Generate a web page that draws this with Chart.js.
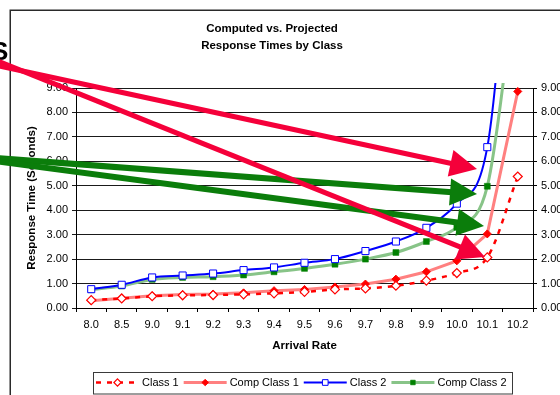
<!DOCTYPE html>
<html>
<head>
<meta charset="utf-8">
<title>Computed vs. Projected Response Times by Class</title>
<script src="https://cdn.jsdelivr.net/npm/chart.js"></script>
<style>
  html, body { margin: 0; padding: 0; background: #ffffff; }
  #wrap { position: relative; width: 560px; height: 395px; overflow: hidden; }
  canvas { display: block; }
</style>
</head>
<body>
<div id="wrap"><canvas id="chart" width="560" height="395"></canvas></div>
<script>
// Arrival-rate categories and response times (seconds) per class
const categories = ['8.0', '8.5', '9.0', '9.1', '9.2', '9.3', '9.4', '9.5', '9.6', '9.7', '9.8', '9.9', '10.0', '10.1', '10.2'];
const class1     = [0.32, 0.39, 0.48, 0.52, 0.53, 0.56, 0.60, 0.66, 0.76, 0.80, 0.91, 1.12, 1.43, 2.07, 5.38];
const compClass1 = [0.30, 0.40, 0.50, 0.55, 0.57, 0.62, 0.71, 0.76, 0.86, 0.98, 1.18, 1.48, 1.93, 3.03, 8.86];
const class2     = [0.77, 0.95, 1.25, 1.33, 1.41, 1.55, 1.66, 1.85, 2.00, 2.33, 2.72, 3.28, 4.27, 6.58, 20.0];
const compClass2 = [0.75, 0.90, 1.17, 1.25, 1.28, 1.35, 1.48, 1.62, 1.79, 2.00, 2.27, 2.72, 3.30, 4.98, 14.0];
const seriesNames = ['Class 1', 'Comp Class 1', 'Class 2', 'Comp Class 2'];
const yTicks = [0, 1, 2, 3, 4, 5, 6, 7, 8, 9];
const titleLines = ['Computed vs. Projected', 'Response Times by Class'];

const FONT = '"Liberation Sans", Arial, Helvetica, sans-serif';
Chart.defaults.font.family = FONT;
Chart.defaults.font.size = 11;
Chart.defaults.color = '#000000';

const plotClip = { left: 0, top: 5, right: 0, bottom: 0 };

function marker(ctx, style, x, y, r, fill, stroke, lw) {
  ctx.save();
  ctx.beginPath();
  if (style === 'rectRot') {
    ctx.moveTo(x, y - r); ctx.lineTo(x + r, y); ctx.lineTo(x, y + r); ctx.lineTo(x - r, y); ctx.closePath();
  } else {
    const h = r * Math.SQRT1_2;
    ctx.rect(x - h, y - h, 2 * h, 2 * h);
  }
  ctx.fillStyle = fill; ctx.fill();
  if (lw > 0) { ctx.lineWidth = lw; ctx.strokeStyle = stroke; ctx.stroke(); }
  ctx.restore();
}

// Frame of the chart box and the cut-off slide lettering behind it
const framePlugin = {
  id: 'frame',
  beforeDraw(chart) {
    const ctx = chart.ctx;
    ctx.save();
    ctx.fillStyle = '#ffffff';
    ctx.fillRect(0, 0, chart.width, chart.height);
    ctx.strokeStyle = '#2a2a2a';
    ctx.lineWidth = 1.5;
    ctx.beginPath();
    ctx.moveTo(10.25, chart.height + 2);
    ctx.lineTo(10.25, 10.25);
    ctx.lineTo(chart.width + 2, 10.25);
    ctx.stroke();
    ctx.fillStyle = '#000000';
    ctx.font = 'bold 26px ' + FONT;
    ctx.textBaseline = 'alphabetic';
    ctx.fillText('S', -9, 60);
    ctx.restore();
  }
};

// Two-line chart heading
const headingPlugin = {
  id: 'heading',
  afterDraw(chart) {
    const ctx = chart.ctx;
    ctx.save();
    ctx.fillStyle = '#000000';
    ctx.font = 'bold 11.5px ' + FONT;
    ctx.textAlign = 'center';
    ctx.textBaseline = 'alphabetic';
    ctx.fillText(titleLines[0], 272, 31.5);
    ctx.fillText(titleLines[1], 272, 48.5);
    ctx.restore();
  }
};

// Boxed legend with line samples and markers taken from each dataset
const boxLegendPlugin = {
  id: 'boxLegend',
  afterDraw(chart) {
    const ctx = chart.ctx;
    const left = 93, top = 372, right = 512, bottom = 393.5;
    const cy = 382.5;
    ctx.save();
    ctx.strokeStyle = '#3a3a3a';
    ctx.lineWidth = 1;
    ctx.strokeRect(left + 0.5, top + 0.5, right - left, bottom - top);
    ctx.font = '11px ' + FONT;
    ctx.textBaseline = 'middle';
    ctx.textAlign = 'left';
    let x = left + 3;
    chart.data.datasets.forEach(ds => {
      const len = 43;
      ctx.save();
      ctx.strokeStyle = ds.borderColor;
      ctx.lineWidth = ds.borderWidth;
      ctx.setLineDash(ds.borderDash || []);
      ctx.beginPath();
      ctx.moveTo(x, cy); ctx.lineTo(x + len, cy);
      ctx.stroke();
      ctx.restore();
      marker(ctx, ds.pointStyle, x + len / 2, cy, ds.pointRadius * 0.8,
             ds.pointBackgroundColor, ds.pointBorderColor, ds.pointBorderWidth);
      x += len + 3;
      ctx.fillStyle = '#000000';
      ctx.fillText(ds.label, x, cy + 0.5);
      x += ctx.measureText(ds.label).width + 5;
    });
    ctx.restore();
  }
};

// Callout arrows laid over the plot
const calloutPlugin = {
  id: 'callouts',
  afterDraw(chart) {
    const ctx = chart.ctx;
    const arrows = [
      { from: [-5, 158], to: [477, 194], color: '#0b7d0b', w: 6 },
      { from: [-5, 161], to: [484, 226], color: '#0b7d0b', w: 6 },
      { from: [-5, 65],  to: [477, 169], color: '#f5003a', w: 5 },
      { from: [-5, 60],  to: [485, 257], color: '#f5003a', w: 5 }
    ];
    const headLen = 27, headHalf = 13.5;
    arrows.forEach(a => {
      const [x0, y0] = a.from, [x1, y1] = a.to;
      const ang = Math.atan2(y1 - y0, x1 - x0);
      const bx = x1 - headLen * Math.cos(ang), by = y1 - headLen * Math.sin(ang);
      ctx.save();
      ctx.strokeStyle = a.color;
      ctx.lineWidth = a.w;
      ctx.lineCap = 'butt';
      ctx.beginPath();
      ctx.moveTo(x0, y0); ctx.lineTo(bx + 2 * Math.cos(ang), by + 2 * Math.sin(ang));
      ctx.stroke();
      ctx.fillStyle = a.color;
      ctx.beginPath();
      ctx.moveTo(x1, y1);
      ctx.lineTo(bx + headHalf * Math.sin(ang), by - headHalf * Math.cos(ang));
      ctx.lineTo(bx - headHalf * Math.sin(ang), by + headHalf * Math.cos(ang));
      ctx.closePath();
      ctx.fill();
      ctx.restore();
    });
  }
};

new Chart(document.getElementById('chart'), {
  type: 'line',
  data: {
    labels: categories,
    datasets: [
      {
        label: seriesNames[0], data: class1,
        borderColor: '#ff0000', borderWidth: 2.5, borderDash: [5, 6],
        pointStyle: 'rectRot', pointRadius: 4.5, pointHoverRadius: 4.5,
        pointBackgroundColor: '#ffffff', pointBorderColor: '#ff0000', pointBorderWidth: 1.2,
        cubicInterpolationMode: 'monotone', clip: plotClip
      },
      {
        label: seriesNames[1], data: compClass1,
        borderColor: '#ff8080', borderWidth: 3, borderDash: [],
        pointStyle: 'rectRot', pointRadius: 4, pointHoverRadius: 4,
        pointBackgroundColor: '#ff0000', pointBorderColor: '#ff0000', pointBorderWidth: 1,
        tension: 0, clip: plotClip
      },
      {
        label: seriesNames[2], data: class2,
        borderColor: '#0000ff', borderWidth: 2, borderDash: [],
        pointStyle: 'rect', pointRadius: 5, pointHoverRadius: 5,
        pointBackgroundColor: '#ffffff', pointBorderColor: '#0000ff', pointBorderWidth: 1,
        cubicInterpolationMode: 'monotone', clip: plotClip
      },
      {
        label: seriesNames[3], data: compClass2,
        borderColor: '#88c488', borderWidth: 3, borderDash: [],
        pointStyle: 'rect', pointRadius: 4.2, pointHoverRadius: 4.2,
        pointBackgroundColor: '#008000', pointBorderColor: '#008000', pointBorderWidth: 0.5,
        cubicInterpolationMode: 'monotone', clip: plotClip
      }
    ]
  },
  options: {
    responsive: false,
    animation: false,
    devicePixelRatio: 1,
    layout: { padding: { top: 88, left: 0, right: 0, bottom: 0 } },
    plugins: {
      legend: { display: false },
      title: { display: false },
      tooltip: { enabled: false }
    },
    events: [],
    scales: {
      x: {
        type: 'category',
        offset: true,
        grid: { offset: true, drawOnChartArea: false, drawTicks: true, tickLength: 4, color: '#000000' },
        border: { color: '#000000', width: 1 },
        ticks: { padding: 6, maxRotation: 0, autoSkip: false, color: '#000000', font: { size: 11 } },
        title: { display: true, text: 'Arrival Rate', color: '#000000',
                 font: { size: 11.5, weight: 'bold' }, padding: { top: 0, bottom: 42 } },
        afterFit: s => { s.height = 87; }
      },
      y: {
        position: 'left', min: 0, max: 9,
        afterBuildTicks: s => { s.ticks = yTicks.map(v => ({ value: v })); },
        ticks: { padding: 4, color: '#000000', font: { size: 11 }, callback: v => Number(v).toFixed(2) },
        grid: { color: '#1a1a1a', lineWidth: 1, drawTicks: true, tickLength: 4 },
        border: { color: '#000000', width: 1 },
        title: { display: true, text: 'Response Time (Seconds)', color: '#000000',
                 font: { size: 11.5, weight: 'bold' }, padding: { top: 25, bottom: 0 } },
        afterFit: s => { s.width = 76; }
      },
      y2: {
        position: 'right', min: 0, max: 9,
        afterBuildTicks: s => { s.ticks = yTicks.map(v => ({ value: v })); },
        ticks: { padding: 4, color: '#000000', font: { size: 11 }, callback: v => Number(v).toFixed(2) },
        grid: { drawOnChartArea: false, drawTicks: true, tickLength: 4, color: '#000000' },
        border: { color: '#000000', width: 1 },
        afterFit: s => { s.width = 27; }
      }
    }
  },
  plugins: [framePlugin, headingPlugin, boxLegendPlugin, calloutPlugin]
});
</script>
</body>
</html>
